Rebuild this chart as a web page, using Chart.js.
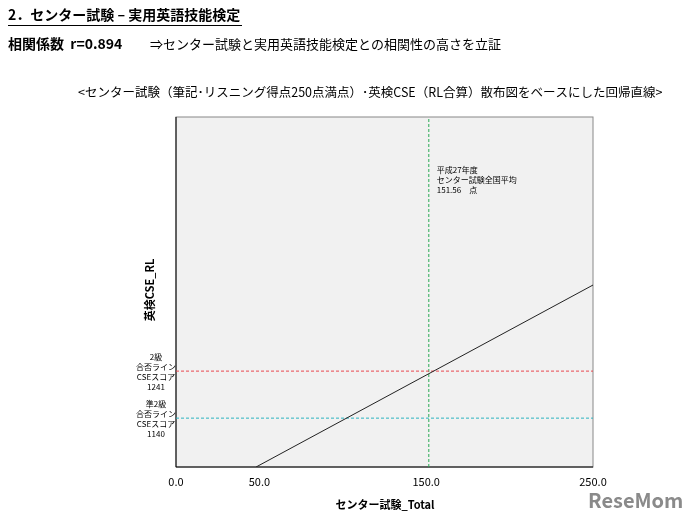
<!DOCTYPE html>
<html><head><meta charset="utf-8">
<script src="https://cdn.jsdelivr.net/npm/chart.js@4"></script>
<style>body{margin:0;background:#fff}#wrap{width:697px;height:526px}</style>
</head><body>
<div id="wrap"><canvas id="c" width="697" height="526"></canvas></div>
<script>
var X_RANGE = [0, 250];
var Y_RANGE = [1035, 1787];
var X_TICKS = [0, 50, 150, 250];
var REG_LINE = [{x: 48, y: 1035}, {x: 250, y: 1426}];
var GRADE2 = 1241;
var PRE2 = 1140;
var AVG = 151.56;

var F = '"Noto Sans CJK JP", sans-serif';
var ctx = document.getElementById('c').getContext('2d');

var deco = {
  id: 'deco',
  beforeDraw: function(ch){
    var a = ch.chartArea, c = ch.ctx;
    c.save();
    c.fillStyle = '#f1f1f1';
    c.fillRect(a.left, a.top, a.right - a.left, a.bottom - a.top);
    c.strokeStyle = '#888'; c.lineWidth = 1;
    c.strokeRect(a.left, a.top, a.right - a.left, a.bottom - a.top);
    c.strokeStyle = '#000';
    c.beginPath(); c.moveTo(a.left, a.top); c.lineTo(a.left, a.bottom); c.lineTo(a.right, a.bottom); c.stroke();
    c.restore();
  },
  afterDraw: function(ch){
    var c = ch.ctx, a = ch.chartArea, ys = ch.scales.y, xs = ch.scales.x;
    c.save();
    c.fillStyle = '#000'; c.textBaseline = 'middle';
    c.font = 'bold 14px ' + F;
    c.fillText('2．センター試験 – 実用英語技能検定', 8, 15);
    c.fillRect(8, 25, 234, 1);
    c.fillText('相関係数  r=0.894', 8, 44);
    c.font = '13px ' + F;
    c.fillText('⇒センター試験と実用英語技能検定との相関性の高さを立証', 150, 44);
    c.font = '12.5px ' + F;
    c.fillText('<センター試験（筆記･リスニング得点250点満点）･英検CSE（RL合算）散布図をベースにした回帰直線>', 78, 92);
    c.font = '8px ' + F;
    c.fillText('平成27年度', xs.getPixelForValue(AVG) + 8, 170);
    c.fillText('センター試験全国平均', xs.getPixelForValue(AVG) + 8, 180);
    c.fillText('151.56　点', xs.getPixelForValue(AVG) + 8, 190);
    c.textAlign = 'center';
    var g = ys.getPixelForValue(GRADE2);
    ['2級', '合否ライン', 'CSEスコア', '1241'].forEach(function(t, i){ c.fillText(t, 156, g - 14 + i * 10); });
    var p = ys.getPixelForValue(PRE2);
    ['準2級', '合否ライン', 'CSEスコア', '1140'].forEach(function(t, i){ c.fillText(t, 156, p - 14 + i * 10); });
    c.font = 'bold 11px ' + F;
    c.fillText('センター試験_Total', 385, 505);
    c.translate(150, 290); c.rotate(-Math.PI / 2);
    c.fillText('英検CSE_RL', 0, 0);
    c.restore();
    c.save();
    c.font = 'bold 20px ' + F; c.fillStyle = '#8a8a8a'; c.textBaseline = 'middle';
    c.fillText('ReseMom', 588, 500);
    c.restore();
  }
};

new Chart(ctx, {
  type: 'scatter',
  data: {
    datasets: [
      {data: REG_LINE, showLine: true, borderColor: '#222', borderWidth: 1, pointRadius: 0},
      {data: [{x: X_RANGE[0], y: GRADE2}, {x: X_RANGE[1], y: GRADE2}], showLine: true, borderColor: '#e8474f', borderWidth: 1, borderDash: [3, 2], pointRadius: 0},
      {data: [{x: X_RANGE[0], y: PRE2}, {x: X_RANGE[1], y: PRE2}], showLine: true, borderColor: '#2bb3c0', borderWidth: 1, borderDash: [3, 2], pointRadius: 0},
      {data: [{x: AVG, y: Y_RANGE[0]}, {x: AVG, y: Y_RANGE[1]}], showLine: true, borderColor: '#2aaa55', borderWidth: 1, borderDash: [3, 2], pointRadius: 0}
    ]
  },
  options: {
    responsive: false, animation: false,
    layout: {padding: {left: 176, right: 104, top: 117, bottom: 29}},
    plugins: {legend: {display: false}, tooltip: {enabled: false}},
    scales: {
      x: {
        min: X_RANGE[0], max: X_RANGE[1],
        afterBuildTicks: function(s){ s.ticks = [0, 50, 100, 150, 200, 250].map(function(v){ return {value: v}; }); },
        afterFit: function(s){ s.height = 30; },
        grid: {display: false, drawTicks: true, tickLength: 5, color: '#000'},
        border: {display: false},
        ticks: {color: '#000', font: {size: 11, family: F}, maxRotation: 0,
          callback: function(v){ return X_TICKS.indexOf(v) >= 0 ? v.toFixed(1) : ''; }}
      },
      y: {
        min: Y_RANGE[0], max: Y_RANGE[1],
        afterFit: function(s){ s.width = 0; },
        grid: {display: false}, border: {display: false},
        ticks: {display: false}
      }
    }
  },
  plugins: [deco]
});
</script>
</body></html>
